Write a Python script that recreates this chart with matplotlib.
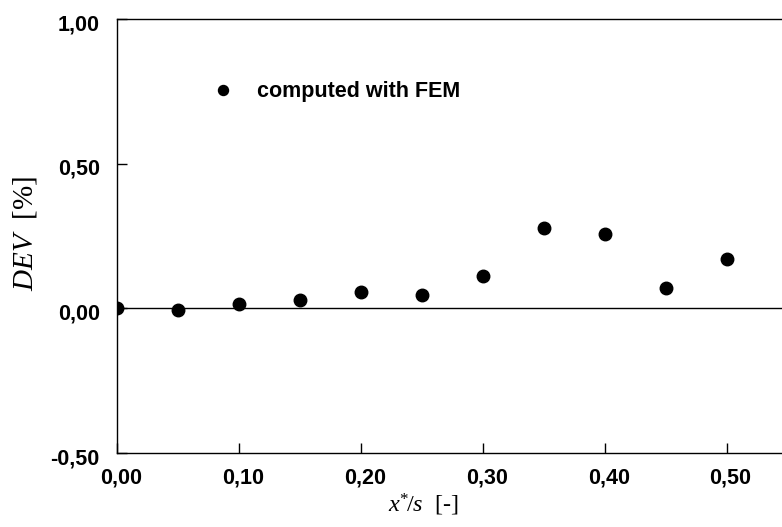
import matplotlib
matplotlib.use("Agg")
import matplotlib.pyplot as plt
from matplotlib.ticker import FuncFormatter
from matplotlib.transforms import ScaledTranslation

# data
x_ratio = [0.00, 0.05, 0.10, 0.15, 0.20, 0.25, 0.30, 0.35, 0.40, 0.45, 0.50]
dev_pct = [0.000, -0.006, 0.014, 0.030, 0.057, 0.045, 0.112, 0.278, 0.256, 0.070, 0.170]
x_ticks = [0.0, 0.1, 0.2, 0.3, 0.4, 0.5]
y_ticks = [-0.5, 0.0, 0.5, 1.0]
legend_label = "computed with FEM"
x_label = r"$x^{*}\!/s$  [-]"
y_label = r"$DEV$  [%]"

plt.rcParams['mathtext.fontset'] = 'custom'
plt.rcParams['mathtext.rm'] = 'Liberation Serif'
plt.rcParams['mathtext.it'] = 'Liberation Serif:italic'

W, H = 782, 527
fig = plt.figure(figsize=(W / 100, H / 100), dpi=100)
left, right, top, bottom = 117, 787.5, 19, 453
ax = fig.add_axes([left / W, (H - bottom) / H, (right - left) / W, (bottom - top) / H])

ax.axhline(0, color='black', lw=1.0, zorder=1)
ax.plot(x_ratio, dev_pct, 'o', color='black', markersize=9, label=legend_label, zorder=3)

ax.set_xlim(0, 0.55)
ax.set_ylim(-0.5, 1.0)
ax.set_xticks(x_ticks)
ax.set_yticks(y_ticks)
fmt = FuncFormatter(lambda v, p: f"{v:.2f}".replace('.', ','))
ax.xaxis.set_major_formatter(fmt)
ax.yaxis.set_major_formatter(fmt)

for s in ax.spines.values():
    s.set_linewidth(1.0)
ax.spines['right'].set_visible(False)

ax.tick_params(direction='in', length=7.5, width=1.0, labelsize=15.5)
ax.tick_params(axis='x', pad=10.5)
ax.tick_params(axis='y', pad=12.5)
for lab in ax.get_xticklabels() + ax.get_yticklabels():
    lab.set_fontfamily('Liberation Sans')
    lab.set_fontweight('bold')
for lab in ax.get_xticklabels():
    lab.set_transform(lab.get_transform() + ScaledTranslation(4 / 100, 0, fig.dpi_scale_trans))
for lab in ax.get_yticklabels():
    lab.set_transform(lab.get_transform() + ScaledTranslation(0, -3 / 100, fig.dpi_scale_trans))

ax.set_xlabel(x_label, fontsize=17.5, family='Liberation Serif')
ax.xaxis.set_label_coords((423.7 - left) / (right - left), (bottom - 492) / (bottom - top))
ax.set_ylabel(y_label, fontsize=21, family='Liberation Serif')
ax.yaxis.label.set_va('center')
ax.yaxis.set_label_coords((25 - left) / (right - left), (bottom - 234) / (bottom - top))

leg = ax.legend(loc='center left', bbox_to_anchor=(212 / W, (H - 92) / H),
                bbox_transform=fig.transFigure, frameon=False, numpoints=1,
                handlelength=1.0, handletextpad=1.1, borderpad=0, borderaxespad=0,
                markerscale=0.8, prop={'family': 'Liberation Sans', 'weight': 'bold', 'size': 15.5})

fig.savefig('out.png', dpi=100)
